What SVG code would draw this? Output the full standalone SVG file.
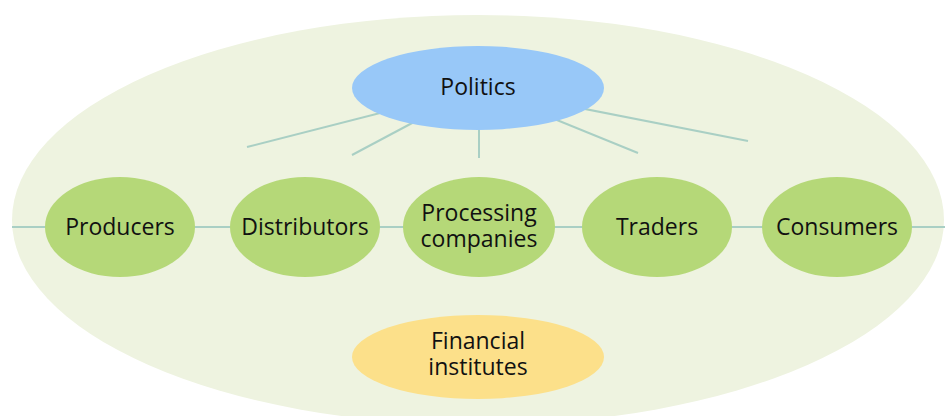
<svg xmlns="http://www.w3.org/2000/svg" width="952" height="416" viewBox="0 0 952 416">
<style>
.lbl{font-family:"Open Sans","Noto Sans",sans-serif;font-size:23px;fill:#111;text-anchor:middle}
.actor{fill:#B5D878}
.conn{stroke:#A9CFC4;stroke-width:2;fill:none}
</style>
<rect width="952" height="416" fill="#fff"/>
<g id="environment"><ellipse cx="478" cy="220" rx="466" ry="205" fill="#EEF3E0"/></g>
<g id="connectors">
<line class="conn" x1="12" y1="227" x2="945" y2="227"/>
<line class="conn" x1="478" y1="88" x2="247" y2="147"/>
<line class="conn" x1="478" y1="88" x2="352" y2="155"/>
<line class="conn" x1="479" y1="88" x2="479" y2="158"/>
<line class="conn" x1="478" y1="88" x2="638" y2="153"/>
<line class="conn" x1="478" y1="88" x2="748" y2="141"/>
</g>
<g id="politics"><ellipse cx="478" cy="88" rx="126" ry="42" fill="#98C8F8"/><text class="lbl" x="478" y="95">Politics</text></g>
<g id="producers"><ellipse class="actor" cx="120" cy="227" rx="75" ry="50"/><text class="lbl" x="120" y="235">Producers</text></g>
<g id="distributors"><ellipse class="actor" cx="305" cy="227" rx="75" ry="50"/><text class="lbl" x="305" y="235">Distributors</text></g>
<g id="processing"><ellipse class="actor" cx="479" cy="227" rx="76" ry="50"/><text class="lbl" x="479" y="221">Processing</text><text class="lbl" x="479" y="247">companies</text></g>
<g id="traders"><ellipse class="actor" cx="657" cy="227" rx="75" ry="50"/><text class="lbl" x="657" y="235">Traders</text></g>
<g id="consumers"><ellipse class="actor" cx="837" cy="227" rx="75" ry="50"/><text class="lbl" x="837" y="235">Consumers</text></g>
<g id="financial"><ellipse cx="478" cy="357" rx="126" ry="42" fill="#FCE08A"/><text class="lbl" x="478" y="349">Financial</text><text class="lbl" x="478" y="375">institutes</text></g>
</svg>
